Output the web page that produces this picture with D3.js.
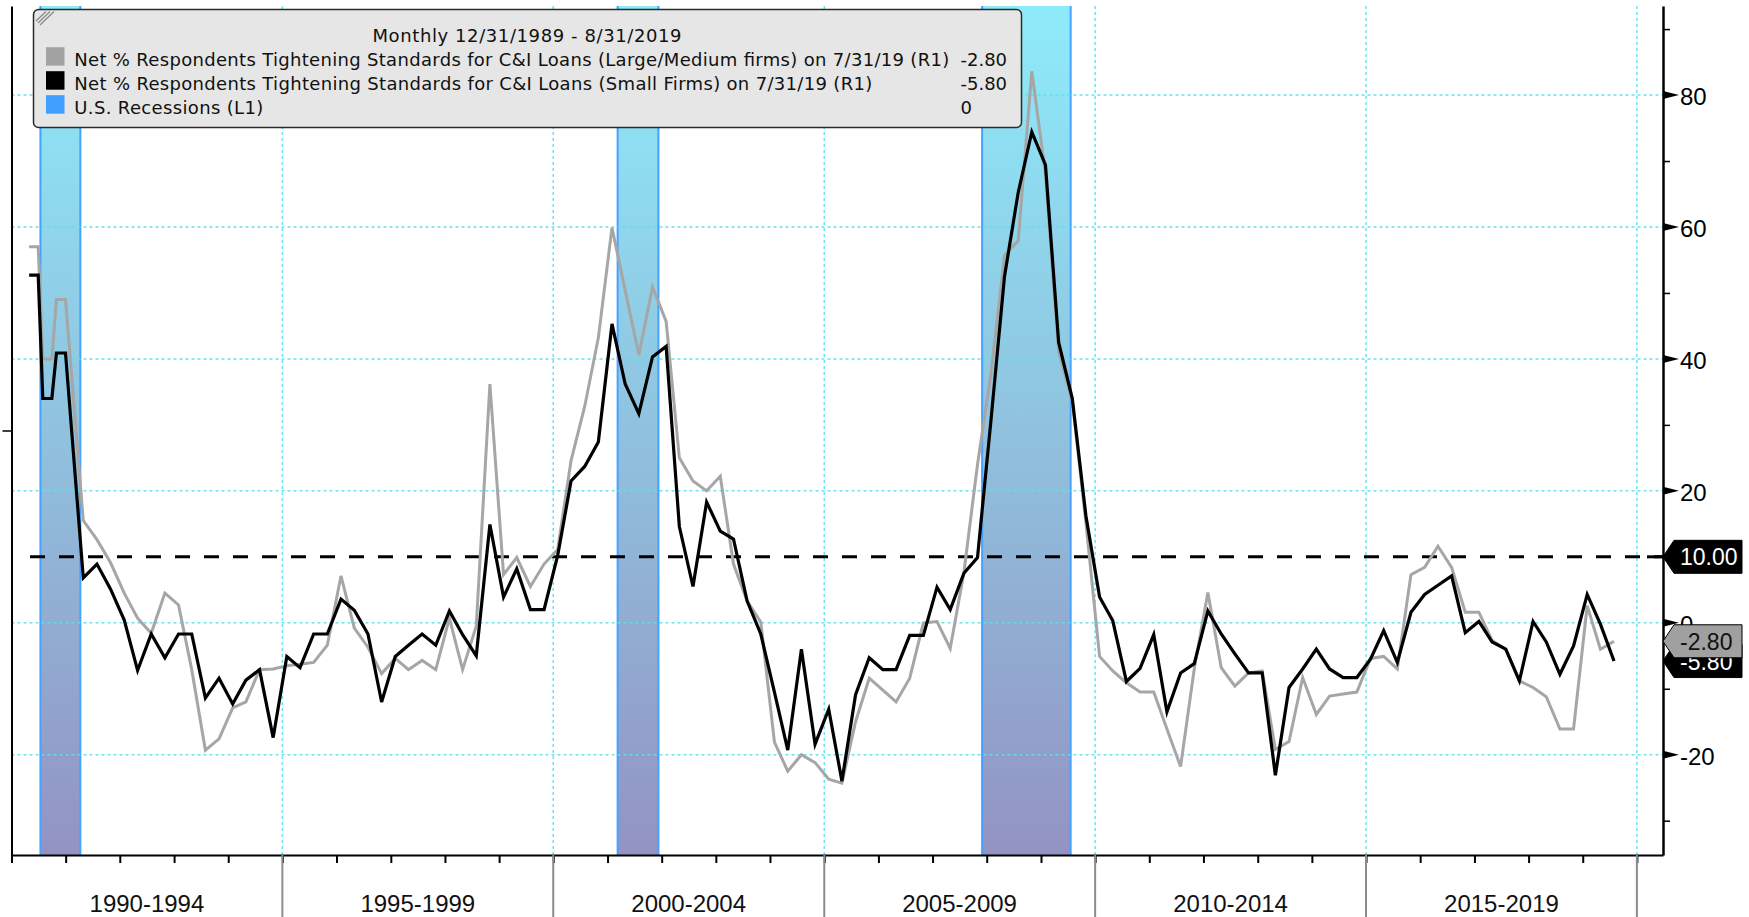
<!DOCTYPE html>
<html>

<head>
    <meta charset="utf-8">
    <style>
        body {
            margin: 0;
            background: #fff;
        }

        svg {
            display: block;
        }

        .legend text {
            font-family: 'DejaVu Sans', sans-serif;
            font-size: 18px;
            fill: #111;
        }

        .lbl {
            font-family: 'Liberation Sans', Arial, sans-serif;
            font-size: 24px;
        }
    </style>
</head>

<body>
    <svg width="1749" height="917"></svg>

    <script src="https://d3js.org/d3.v7.min.js"></script>

    <script>
        // survey months (plotted at month end)
        let dates = [
            "1990-04", "1990-06", "1990-07", "1990-09", "1990-10", "1990-12",
            "1991-04", "1991-07", "1991-10",
            "1992-01", "1992-04", "1992-07", "1992-10",
            "1993-01", "1993-04", "1993-07", "1993-10",
            "1994-01", "1994-04", "1994-07", "1994-10",
            "1995-01", "1995-04", "1995-07", "1995-10",
            "1996-01", "1996-04", "1996-07", "1996-10",
            "1997-01", "1997-04", "1997-07", "1997-10",
            "1998-01", "1998-04", "1998-07", "1998-10",
            "1999-01", "1999-04", "1999-07", "1999-10",
            "2000-01", "2000-04", "2000-07", "2000-10",
            "2001-01", "2001-04", "2001-07", "2001-10",
            "2002-01", "2002-04", "2002-07", "2002-10",
            "2003-01", "2003-04", "2003-07", "2003-10",
            "2004-01", "2004-04", "2004-07", "2004-10",
            "2005-01", "2005-04", "2005-07", "2005-10",
            "2006-01", "2006-04", "2006-07", "2006-10",
            "2007-01", "2007-04", "2007-07", "2007-10",
            "2008-01", "2008-04", "2008-07", "2008-10",
            "2009-01", "2009-04", "2009-07", "2009-10",
            "2010-01", "2010-04", "2010-07", "2010-10",
            "2011-01", "2011-04", "2011-07", "2011-10",
            "2012-01", "2012-04", "2012-07", "2012-10",
            "2013-01", "2013-04", "2013-07", "2013-10",
            "2014-01", "2014-04", "2014-07", "2014-10",
            "2015-01", "2015-04", "2015-07", "2015-10",
            "2016-01", "2016-04", "2016-07", "2016-10",
            "2017-01", "2017-04", "2017-07", "2017-10",
            "2018-01", "2018-04", "2018-07", "2018-10",
            "2019-01", "2019-04", "2019-07"
        ];

        // Large/Medium firms (grey)
        let largeMed = [
            57, 57, 40, 40, 49, 49,
            15.5, 12.6, 9.1,
            4.5, 0.7, -1.6, 4.5,
            2.7, -7.1, -19.3, -17.6,
            -12.9, -12.0, -7.1, -7.0,
            -6.5, -6.3, -6.0, -3.4,
            7.1, -0.8, -3.7, -7.7,
            -5.4, -7.1, -5.7, -7.1,
            0.7, -7.1, -0.5, 36.2,
            7.3, 9.9, 5.5, 8.9,
            11.1, 24.6, 32.8, 43.2,
            59.9, 50.4, 40.6, 50.9,
            45.7, 25.0, 21.5, 20.0,
            22.2, 8.9, 3.3, 0.1,
            -18.1, -22.5, -20.0, -21.2,
            -23.7, -24.3, -15.0, -8.4,
            -10.2, -12.0, -8.4, 0.0,
            0.2, -3.9, 7.6, 24.0,
            38.0, 55.7, 57.9, 83.6,
            68.0, 41.1, 33.6, 15.1,
            -5.1, -7.3, -9.1, -10.5,
            -10.5, -16.1, -21.8, -7.0,
            4.6, -6.8, -9.6, -7.6,
            -7.3, -19.2, -18.0, -8.3,
            -13.9, -11.1, -10.8, -10.5,
            -5.4, -5.1, -7.0, 7.3,
            8.4, 11.6, 8.4, 1.6,
            1.6, -2.7, -4.0, -8.8,
            -9.8, -11.2, -16.1, -16.1,
            2.6, -4.0, -2.8
        ];

        // Small firms (black)
        let small = [
            52.7, 52.7, 34, 34, 40.9, 40.9,
            6.8, 8.9, 5.1,
            0.4, -7.2, -1.7, -5.3,
            -1.7, -1.7, -11.4, -8.4,
            -12.3, -8.7, -7.1, -17.4,
            -5.1, -6.8, -1.7, -1.7,
            3.6, 1.9, -1.7, -12.0,
            -5.1, -3.4, -1.7, -3.4,
            1.8, -1.8, -5.0, 14.9,
            3.9, 8.2, 2.0, 2.0,
            10.2, 21.5, 23.7, 27.4,
            45.3, 36.2, 31.7, 40.3,
            41.9, 14.6, 5.5, 18.3,
            13.9, 12.7, 3.3, -1.7,
            -10.5, -19.3, -4.0, -18.4,
            -13.1, -24.0, -10.9, -5.3,
            -7.1, -7.1, -1.9, -1.9,
            5.4, 2.0, 7.5, 9.9,
            31.0, 52.5, 65.2, 74.4,
            69.4, 42.5, 34.0, 16.2,
            3.9, 0.3, -8.9, -6.9,
            -1.8, -13.5, -7.6, -6.2,
            1.8, -1.7, -4.7, -7.6,
            -7.6, -23.1, -9.8, -7.0,
            -4.0, -7.0, -8.3, -8.3,
            -5.5, -1.2, -6.0, 1.6,
            4.3, 5.7, 7.1, -1.5,
            0.2, -2.9, -4.0, -8.8,
            0.2, -2.9, -7.8, -3.5,
            4.3, -0.2, -5.8
        ];

        let recessionStart = ["1990-07-15", "2001-03-10", "2007-12-01"];
        let recessionEnd = ["1991-04-10", "2001-12-10", "2009-07-20"];

        let periodLabels = ["1990-1994", "1995-1999", "2000-2004", "2005-2009", "2010-2014", "2015-2019"];
        let periodStarts = [1990, 1995, 2000, 2005, 2010, 2015];
        let yTicks = [-20, 0, 20, 40, 60, 80];
        let yMinor = [-30, -10, 10, 30, 50, 70, 90];
        let threshold = 10;

        let legendTitle = "Monthly 12/31/1989 - 8/31/2019";
        let legendNames = [
            "Net % Respondents Tightening Standards for C&I Loans (Large/Medium firms) on 7/31/19 (R1)",
            "Net % Respondents Tightening Standards for C&I Loans (Small Firms) on 7/31/19 (R1)",
            "U.S. Recessions (L1)"
        ];
        let legendValues = ["-2.80", "-5.80", "0"];
        let legendColors = ["#a3a3a3", "#000000", "#3fa0ff"];

        let svg = d3.select("svg")

        let plotLeft = 11.5, plotRight = 1663, plotTop = 6, plotBottom = 855;
        let parseMonth = d3.timeParse("%Y-%m");
        let parseDay = d3.timeParse("%Y-%m-%d");
        let monthEnd = s => d3.timeDay.offset(d3.timeMonth.offset(parseMonth(s), 1), -1);

        let x = d3.scaleTime()
            .domain([new Date(1990, 0, 1), new Date(2020, 5, 25)])
            .range([plotLeft, plotRight]);
        let y = d3.scaleLinear()
            .domain([-35.2, 93.5])
            .range([plotBottom, plotTop]);
        // left axis is the recession indicator (0/1)
        let yL = d3.scaleLinear()
            .domain([0, 1])
            .range([plotBottom, plotTop]);

        let defs = svg.append("defs");
        let grad = defs.append("linearGradient")
            .attr("id", "recGrad")
            .attr("x1", 0).attr("y1", 0).attr("x2", 0).attr("y2", 1);
        grad.append("stop").attr("offset", "0%").attr("stop-color", "#8eebfa");
        grad.append("stop").attr("offset", "50%").attr("stop-color", "#90c2de");
        grad.append("stop").attr("offset", "100%").attr("stop-color", "#9393c3");

        // recession bars
        let rec = recessionStart.map((s, i) => ({ s: parseDay(s), e: parseDay(recessionEnd[i]) }));
        let bars = svg.append("g")
            .selectAll("g")
            .data(rec)
            .join("g");
        bars.append("rect")
            .attr("x", d => x(d.s))
            .attr("width", d => x(d.e) - x(d.s))
            .attr("y", yL(1))
            .attr("height", yL(0) - yL(1))
            .style("fill", "url(#recGrad)");
        bars.selectAll("line")
            .data(d => [d.s, d.e])
            .join("line")
            .attr("x1", d => x(d)).attr("x2", d => x(d))
            .attr("y1", yL(1)).attr("y2", yL(0))
            .style("stroke", "#45a2ff")
            .style("stroke-width", 2);

        // grid
        let grid = svg.append("g")
            .style("stroke", "#5fe0ea")
            .style("stroke-width", 1.5)
            .style("stroke-dasharray", "3,3")
            .style("opacity", 0.9);
        grid.selectAll("line.h")
            .data(yTicks)
            .join("line")
            .attr("class", "h")
            .attr("x1", plotLeft).attr("x2", plotRight)
            .attr("y1", d => y(d)).attr("y2", d => y(d));
        grid.selectAll("line.v")
            .data(periodStarts.slice(1).concat([2020]))
            .join("line")
            .attr("class", "v")
            .attr("x1", d => x(new Date(d, 0, 1))).attr("x2", d => x(new Date(d, 0, 1)))
            .attr("y1", plotTop).attr("y2", plotBottom);

        // threshold line at 10
        svg.append("line")
            .attr("x1", 30).attr("x2", plotRight)
            .attr("y1", y(threshold)).attr("y2", y(threshold))
            .style("stroke", "#000")
            .style("stroke-width", 3)
            .style("stroke-dasharray", "15,14");
        svg.append("line")
            .attr("x1", plotRight - 16).attr("x2", plotRight)
            .attr("y1", y(threshold)).attr("y2", y(threshold))
            .style("stroke", "#000")
            .style("stroke-width", 3);

        // series
        let line = d3.line()
            .x(d => x(d.date))
            .y(d => y(d.value));
        let grey = dates.map((d, i) => ({ date: monthEnd(d), value: largeMed[i] }));
        let black = dates.map((d, i) => ({ date: monthEnd(d), value: small[i] }));

        svg.append("path")
            .datum(grey)
            .attr("d", line)
            .style("fill", "none")
            .style("stroke", "#a6a6a6")
            .style("stroke-width", 3);
        svg.append("path")
            .datum(black)
            .attr("d", line)
            .style("fill", "none")
            .style("stroke", "#000")
            .style("stroke-width", 3.2);

        // bottom axis
        let xAxis = svg.append("g")
            .attr("transform", `translate(0,${plotBottom})`)
            .call(d3.axisBottom(x)
                .ticks(d3.timeYear.every(1))
                .tickSize(8)
                .tickSizeOuter(0)
                .tickFormat(""));
        xAxis.select(".domain").style("stroke", "#000").style("stroke-width", 2);
        xAxis.selectAll(".tick line").style("stroke", "#000").style("stroke-width", 2);

        svg.append("g")
            .selectAll("line")
            .data(periodStarts.slice(1).concat([2020]))
            .join("line")
            .attr("x1", d => x(new Date(d, 0, 1))).attr("x2", d => x(new Date(d, 0, 1)))
            .attr("y1", plotBottom).attr("y2", 917)
            .style("stroke", "#8c8c8c")
            .style("stroke-width", 2);

        svg.append("g")
            .selectAll("text")
            .data(periodLabels)
            .join("text")
            .attr("class", "lbl")
            .attr("x", (d, i) => x(new Date(periodStarts[i] + 2, 6, 2)))
            .attr("y", 911.5)
            .attr("text-anchor", "middle")
            .style("fill", "#111")
            .text(d => d);

        // left axis (recessions)
        let lAxis = svg.append("g")
            .attr("transform", `translate(${plotLeft},0)`)
            .call(d3.axisLeft(yL).tickValues([0.5]).tickSize(9).tickSizeOuter(0).tickFormat(""));
        lAxis.select(".domain").style("stroke", "#000").style("stroke-width", 2);
        lAxis.selectAll(".tick line").style("stroke", "#000").style("stroke-width", 1.5);

        // right axis
        let rAxis = svg.append("g")
            .attr("transform", `translate(${plotRight},0)`)
            .call(d3.axisRight(y).tickValues(yMinor).tickSize(7).tickSizeOuter(0).tickFormat(""));
        rAxis.select(".domain").style("stroke", "#000").style("stroke-width", 2.5);
        rAxis.selectAll(".tick line").style("stroke", "#000").style("stroke-width", 1.5);

        let major = svg.append("g")
            .selectAll("g")
            .data(yTicks)
            .join("g")
            .attr("transform", d => `translate(${plotRight},${y(d)})`);
        major.append("path")
            .attr("d", "M0,-4L16,0L0,4Z")
            .style("fill", "#000");
        major.append("text")
            .attr("class", "lbl")
            .attr("x", 17)
            .attr("y", 10)
            .style("fill", "#000")
            .text(d => d);

        // value tags on the right axis (the grey tag sits over the black one, as in the original)
        let tags = [
            { v: threshold, txt: "10.00", fill: "#000", color: "#fff" },
            { v: small[small.length - 1], txt: "-5.80", fill: "#000", color: "#fff" },
            { v: largeMed[largeMed.length - 1], txt: "-2.80", fill: "#a0a0a0", color: "#111" }
        ];
        let tag = svg.append("g")
            .selectAll("g")
            .data(tags)
            .join("g")
            .attr("transform", d => `translate(${plotRight},${y(d.v)})`);
        tag.append("path")
            .attr("d", "M0,0L11,-16.5L79,-16.5L79,16.5L11,16.5Z")
            .style("fill", d => d.fill)
            .style("stroke", "#000")
            .style("stroke-width", 1);
        tag.append("text")
            .attr("class", "lbl")
            .attr("x", 17)
            .attr("y", 8.5)
            .style("font-size", "23px")
            .style("fill", d => d.color)
            .text(d => d.txt);

        // legend
        let lg = svg.append("g").attr("class", "legend");
        lg.append("rect")
            .attr("x", 33.5).attr("y", 9.5)
            .attr("width", 988).attr("height", 118)
            .attr("rx", 5)
            .style("fill", "#e6e6e6")
            .style("stroke", "#2b2b2b")
            .style("stroke-width", 1.5);
        lg.selectAll("line.hatch")
            .data([0, 4, 8])
            .join("line")
            .attr("class", "hatch")
            .attr("x1", d => 36 + d / 2).attr("y1", d => 21 + d / 2)
            .attr("x2", d => 46 + d).attr("y2", 11.5)
            .style("stroke", "#8a8a8a")
            .style("stroke-width", 1.3);
        lg.append("text")
            .attr("x", 527)
            .attr("y", 41.5)
            .attr("text-anchor", "middle")
            .attr("textLength", 309)
            .text(legendTitle);

        let nameWidths = [875, 798, 189];
        let rows = lg.selectAll("g.row")
            .data(legendNames)
            .join("g")
            .attr("class", "row")
            .attr("transform", (d, i) => `translate(0,${65.7 + i * 24})`);
        rows.append("rect")
            .attr("x", 46).attr("y", -18.5)
            .attr("width", 18.5).attr("height", 18.5)
            .style("fill", (d, i) => legendColors[i]);
        rows.append("text")
            .attr("x", 74.3)
            .attr("textLength", (d, i) => nameWidths[i])
            .text(d => d);
        rows.append("text")
            .attr("x", 960.5)
            .text((d, i) => legendValues[i]);
    </script>
</body>

</html>
